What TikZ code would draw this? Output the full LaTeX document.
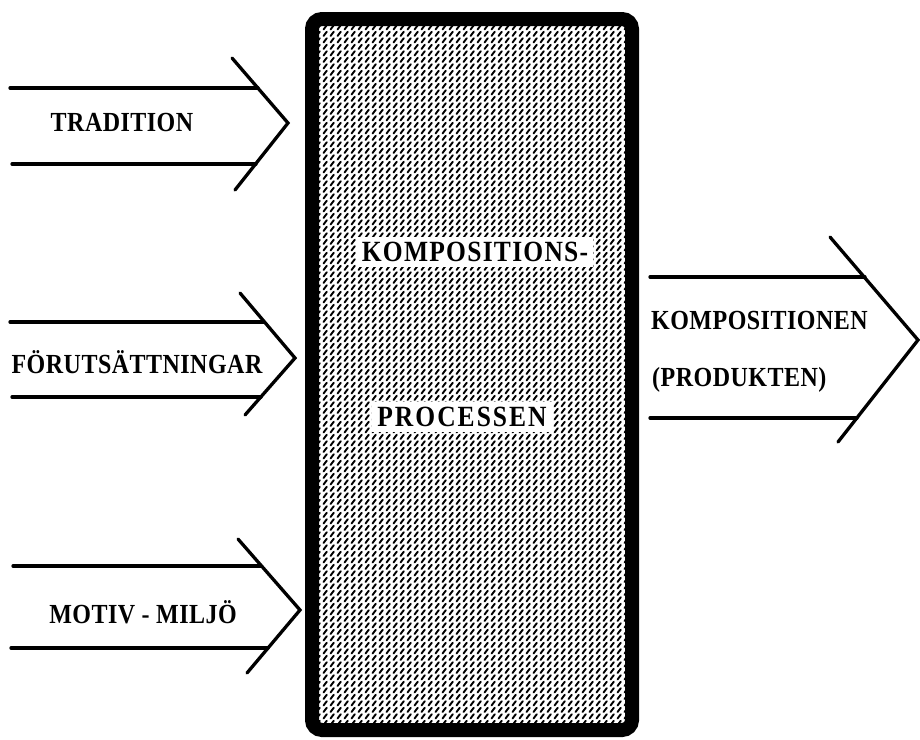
\documentclass[tikz,border=0pt]{standalone}
\usepackage{graphicx}
\usepackage{fontspec}
\setmainfont{Liberation Serif}
\newfontfamily\lblfont[LetterSpace=2]{Liberation Serif}
\newfontfamily\boxfont[LetterSpace=5]{Liberation Serif}
\newfontfamily\boxfontwide[LetterSpace=8]{Liberation Serif}
\newcommand{\tallt}[1]{\scalebox{1}[1.15]{#1}}
\usetikzlibrary{patterns.meta}
\tikzdeclarepattern{
  name=dashhatch,
  type=uncolored,
  bounding box={(-1pt,-1pt) and (8pt,7.5pt)},
  tile size={(7pt,6.5pt)},
  code={\draw[line width=1.9pt,line cap=round] (1.5pt,1pt) -- (4.8pt,5.3pt);}
}
\tikzset{
  arrowline/.style={line width=3.3pt,line cap=round,line join=miter},
  lbl/.style={font=\lblfont\bfseries\fontsize{24}{28}\selectfont,inner sep=0pt},
  boxlbl/.style={font=\boxfont\bfseries\fontsize{25.5}{30}\selectfont,fill=white,inner xsep=5pt,inner ysep=5pt},
  procbox/.style={draw=black,line width=14pt,rounded corners=10pt,pattern={dashhatch},pattern color=black},
}
\begin{document}
\begin{tikzpicture}[x=1pt,y=-1pt]
\useasboundingbox (0,0) rectangle (920,739);
% central process box
\draw[procbox] (312,19) rectangle (632,730);
\node[boxlbl] (komp) at (475,252) {\tallt{KOMPOSITIONS-}};
\node[boxlbl,font=\boxfontwide\bfseries\fontsize{25.5}{30}\selectfont] (proc) at (462,417) {\tallt{PROCESSEN}};

% arrow 1: TRADITION
\coordinate (a1ts) at (10,88);   \coordinate (a1te) at (258,88);
\coordinate (a1bs) at (12,164);  \coordinate (a1be) at (256,164);
\coordinate (a1t) at (232,58); \coordinate (a1p) at (288,123); \coordinate (a1b) at (235,190);
\draw[arrowline] (a1ts) -- (a1te);
\draw[arrowline] (a1bs) -- (a1be);
\draw[arrowline] (a1t) -- (a1p) -- (a1b);
\node[lbl] (trad) at (122,122) {\tallt{TRADITION}};

% arrow 2: FÖRUTSÄTTNINGAR
\coordinate (a2ts) at (10,322);  \coordinate (a2te) at (264,322);
\coordinate (a2bs) at (12,397);  \coordinate (a2be) at (261,397);
\coordinate (a2t) at (240,293); \coordinate (a2p) at (295,358); \coordinate (a2b) at (245,415);
\draw[arrowline] (a2ts) -- (a2te);
\draw[arrowline] (a2bs) -- (a2be);
\draw[arrowline] (a2t) -- (a2p) -- (a2b);
\node[lbl] (forut) at (137,362) {\tallt{FÖRUTSÄTTNINGAR}};

% arrow 3: MOTIV - MILJÖ
\coordinate (a3ts) at (13,566);  \coordinate (a3te) at (261,566);
\coordinate (a3bs) at (11,648);  \coordinate (a3be) at (268,648);
\coordinate (a3t) at (238,539); \coordinate (a3p) at (300,610); \coordinate (a3b) at (247,673);
\draw[arrowline] (a3ts) -- (a3te);
\draw[arrowline] (a3bs) -- (a3be);
\draw[arrowline] (a3t) -- (a3p) -- (a3b);
\node[lbl] (motiv) at (143,612) {\tallt{MOTIV - MILJÖ}};

% arrow 4: output
\coordinate (a4ts) at (650,277);  \coordinate (a4te) at (865,277);
\coordinate (a4bs) at (650,418);  \coordinate (a4be) at (857,418);
\coordinate (a4t) at (830,237); \coordinate (a4p) at (918,340); \coordinate (a4b) at (838,442);
\draw[arrowline] (a4ts) -- (a4te);
\draw[arrowline] (a4bs) -- (a4be);
\draw[arrowline] (a4t) -- (a4p) -- (a4b);
\node[lbl,anchor=west] (kompn) at (651,320) {\tallt{KOMPOSITIONEN}};
\node[lbl,anchor=west] (prod) at (652,380) {\tallt{(PRODUKTEN)}};
\end{tikzpicture}
\end{document}
